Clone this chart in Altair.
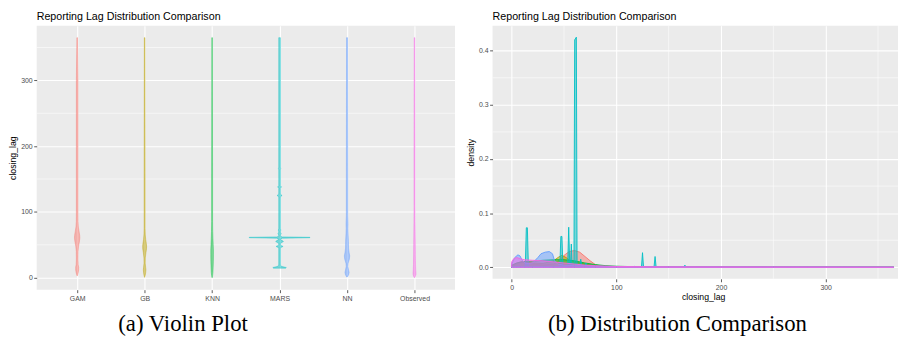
import json
import altair as alt
import pandas as pd

models = ["GAM", "GB", "KNN", "MARS", "NN", "Observed"]
colors = ["#F8766D", "#B79F00", "#00BA38", "#00BFC4", "#619CFF", "#F564E3"]

# ---- violin outlines: closing_lag value and half width (in category units)
gam_y = [3, 8, 12, 16, 20, 28, 40, 48, 54, 60, 64, 70, 77, 85, 100, 200, 300, 365]
gam_w = [0.003, 0.016, 0.022, 0.022, 0.015, 0.012, 0.013, 0.021, 0.032, 0.040, 0.038, 0.029, 0.018, 0.013, 0.012, 0.012, 0.012, 0.004]
gb_y = [0.5, 4, 8, 12, 16, 22, 30, 38, 44, 48, 52, 58, 65, 75, 90, 150, 365]
gb_w = [0.001, 0.010, 0.016, 0.019, 0.015, 0.009, 0.010, 0.019, 0.028, 0.029, 0.025, 0.016, 0.010, 0.007, 0.007, 0.007, 0.004]
knn_y = [0, 3, 8, 15, 25, 35, 42, 50, 60, 70, 85, 100, 150, 365]
knn_w = [0.001, 0.007, 0.012, 0.015, 0.018, 0.019, 0.019, 0.016, 0.012, 0.009, 0.007, 0.007, 0.007, 0.004]
mars_y = [14.5, 15.5, 17, 19, 45.5, 47.5, 49.5, 52, 53.5, 55, 56.5, 58, 59, 60, 60.8, 61.4, 62, 63,
          65, 67, 69, 71, 72.5, 74, 123, 125, 127, 136, 138, 140, 164, 166, 168, 365]
mars_w = [0.09, 0.1, 0.035, 0.012, 0.012, 0.052, 0.012, 0.012, 0.033, 0.058, 0.04, 0.013, 0.016, 0.04, 0.45, 0.45, 0.04, 0.013,
          0.013, 0.024, 0.013, 0.013, 0.02, 0.012, 0.012, 0.037, 0.012, 0.012, 0.028, 0.012, 0.012, 0.017, 0.012, 0.012]
nn_y = [1, 4, 8, 12, 17, 22, 28, 33, 38, 45, 55, 65, 75, 82, 95, 150, 365]
nn_w = [0.004, 0.022, 0.031, 0.022, 0.012, 0.016, 0.034, 0.040, 0.031, 0.022, 0.021, 0.016, 0.013, 0.015, 0.010, 0.010, 0.007]
obs_y = [0, 2, 5, 8, 12, 20, 35, 50, 65, 85, 110, 200, 365]
obs_w = [0.001, 0.013, 0.021, 0.021, 0.018, 0.015, 0.013, 0.012, 0.010, 0.008, 0.007, 0.007, 0.004]

# ---- density curves: closing_lag and density
gam_x = [0, 5, 10, 15, 20, 30, 40, 45, 50, 55, 60, 65, 70, 75, 80, 85, 90, 100, 120, 150, 200, 365]
gam_d = [0.002, 0.006, 0.009, 0.009, 0.006, 0.004, 0.006, 0.012, 0.022, 0.029, 0.031, 0.028, 0.02, 0.012, 0.005, 0.002, 0.001, 0.0005, 0.0003, 0.0002, 0.0001, 0]
gb_x = [0, 5, 10, 15, 20, 30, 40, 45, 48, 52, 56, 60, 70, 80, 100, 150, 365]
gb_d = [0.003, 0.008, 0.011, 0.01, 0.008, 0.007, 0.012, 0.019, 0.022, 0.018, 0.012, 0.01, 0.006, 0.003, 0.001, 0.0003, 0]
knn_x = [0, 5, 10, 20, 30, 40, 50, 60, 70, 80, 90, 100, 120, 150, 365]
knn_d = [0.004, 0.008, 0.01, 0.011, 0.013, 0.014, 0.014, 0.012, 0.008, 0.005, 0.003, 0.002, 0.001, 0.0005, 0]
mars_x = [0, 13, 14, 15, 16, 46, 47, 48, 49, 53.5, 54.5, 55.5, 56.2, 57, 57.8, 59.5, 60.2, 61.8, 62.5,
          65, 66, 67, 70, 71, 72, 93, 94, 95, 116, 117, 118, 124, 125, 126, 136, 137, 138, 164.5, 165.5, 166.5, 365]
mars_d = [0.001, 0.001, 0.073, 0.073, 0.001, 0.001, 0.057, 0.057, 0.001, 0.002, 0.074, 0.003, 0.003, 0.043, 0.003, 0.003, 0.42, 0.425, 0.003,
          0.002, 0.015, 0.002, 0.002, 0.008, 0.001, 0.001, 0.002, 0.001, 0.0005, 0.002, 0.0005, 0.0005, 0.027, 0.0005, 0.0005, 0.02, 0.0005, 0.0003, 0.004, 0.0003, 0]
nn_x = [0, 3, 6, 8, 10, 13, 16, 20, 25, 28, 32, 36, 39, 41, 44, 50, 60, 70, 80, 90, 100, 120, 283, 311, 365]
nn_d = [0.006, 0.018, 0.023, 0.021, 0.013, 0.008, 0.007, 0.008, 0.018, 0.025, 0.028, 0.029, 0.025, 0.012, 0.006, 0.004, 0.003, 0.003, 0.002, 0.0015, 0.001, 0.0005, 0.0003, 0.0003, 0]
obs_x = [0, 2, 5, 8, 12, 20, 30, 40, 50, 60, 70, 80, 100, 150, 250, 365]
obs_d = [0.01, 0.016, 0.018, 0.016, 0.014, 0.013, 0.012, 0.01, 0.008, 0.006, 0.004, 0.003, 0.0015, 0.001, 0.0008, 0.0006]

lag_ticks = [0, 100, 200, 300]
lag_minor = [50, 150, 250, 350]
dens_ticks = [0.0, 0.1, 0.2, 0.3, 0.4]
dens_minor = [0.05, 0.15, 0.25, 0.35]

title_text = "Reporting Lag Distribution Comparison"
captions = ["(a) Violin Plot", "(b) Distribution Comparison"]

# ---- build tables
violin_rows = []
for i, (m, ys, ws) in enumerate(zip(models, [gam_y, gb_y, knn_y, mars_y, nn_y, obs_y],
                                     [gam_w, gb_w, knn_w, mars_w, nn_w, obs_w])):
    for yv, wv in zip(ys, ws):
        violin_rows.append({"model": m, "closing_lag": yv, "lo": i + 1 - wv, "hi": i + 1 + wv})
violin_df = pd.DataFrame(violin_rows)

dens_tables = []
for m, xs, ds in zip(models, [gam_x, gb_x, knn_x, mars_x, nn_x, obs_x],
                     [gam_d, gb_d, knn_d, mars_d, nn_d, obs_d]):
    dens_tables.append(pd.DataFrame({"model": m, "closing_lag": xs, "density": ds}))

color_scale = alt.Scale(domain=models, range=colors)
FONT = "Liberation Sans"


def panel_title():
    return alt.TitleParams(title_text, anchor="start", frame="group", fontSize=10.8, font=FONT,
                           fontWeight="normal", color="black", offset=4)


def caption_layer(text, cx, cy):
    return alt.Chart(pd.DataFrame({"t": [text]})).mark_text(
        font="Liberation Serif", fontSize=23, align="center", baseline="middle", color="black"
    ).encode(x=alt.value(cx), y=alt.value(cy), text="t:N")


# ---- left: violins
lv_y_scale = alt.Scale(domain=[-18.25, 383.25], nice=False, zero=False)
lv_y_axis = alt.Axis(values=lag_ticks, title="closing_lag", grid=True)
lv_x_scale = alt.Scale(domain=[0.4, 6.6], nice=False, zero=False)
label_expr = json.dumps(models) + "[datum.value - 1]"
lv_x_axis = alt.Axis(values=list(range(1, 7)), labelExpr=label_expr, title=None, grid=True)

lv_minor = alt.Chart(pd.DataFrame({"v": lag_minor})).mark_rule(color="white", strokeWidth=0.55).encode(
    y=alt.Y("v:Q", scale=lv_y_scale, axis=lv_y_axis)
)
violins = alt.Chart(violin_df).mark_area(orient="horizontal", fillOpacity=0.5, strokeWidth=0.4).encode(
    y=alt.Y("closing_lag:Q", scale=lv_y_scale, axis=lv_y_axis),
    x=alt.X("lo:Q", scale=lv_x_scale, axis=lv_x_axis, stack=None),
    x2="hi:Q",
    color=alt.Color("model:N", scale=color_scale, legend=None),
    stroke=alt.Stroke("model:N", scale=color_scale, legend=None),
)
left = alt.layer(lv_minor, violins, caption_layer(captions[0], 148, 302)).properties(
    width=423, height=267, title=panel_title()
)

# ---- right: densities
rd_x_scale = alt.Scale(domain=[-18.25, 369.1], nice=False, zero=False)
rd_x_axis = alt.Axis(values=lag_ticks, title="closing_lag", grid=True, titleX=213, titlePadding=2)
rd_y_scale = alt.Scale(domain=[-0.02125, 0.44625], nice=False, zero=False)
rd_y_axis = alt.Axis(values=dens_ticks, title="density", grid=True, format=".1f")

rd_minor_x = alt.Chart(pd.DataFrame({"v": lag_minor})).mark_rule(color="white", strokeWidth=0.55).encode(
    x=alt.X("v:Q", scale=rd_x_scale, axis=rd_x_axis)
)
rd_minor_y = alt.Chart(pd.DataFrame({"v": dens_minor})).mark_rule(color="white", strokeWidth=0.55).encode(
    y=alt.Y("v:Q", scale=rd_y_scale, axis=rd_y_axis)
)
area_layers = []
for tbl in dens_tables:
    area_layers.append(
        alt.Chart(tbl).mark_area(fillOpacity=0.5, strokeWidth=0.9).encode(
            x=alt.X("closing_lag:Q", scale=rd_x_scale, axis=rd_x_axis),
            y=alt.Y("density:Q", scale=rd_y_scale, axis=rd_y_axis, stack=None),
            y2=alt.datum(0),
            color=alt.Color("model:N", scale=color_scale, legend=None),
            stroke=alt.Stroke("model:N", scale=color_scale, legend=None),
        )
    )
right = alt.layer(rd_minor_x, rd_minor_y, *area_layers, caption_layer(captions[1], 187, 302)).properties(
    width=410, height=256, title=panel_title()
)

chart = alt.hconcat(left, right, spacing=10).properties(
    padding=0, background="white"
).configure_view(
    fill="#EBEBEB", stroke=None
).configure_axis(
    domain=False, tickColor="#333333", tickSize=3, tickWidth=0.8,
    labelColor="#4D4D4D", labelFontSize=7, labelFont=FONT, labelPadding=1.5,
    titleFont=FONT, titleFontSize=8.8, titleFontWeight="normal", titleColor="black", titlePadding=3,
    gridColor="white", gridWidth=1.1,
)

chart.save("out.html", embed_options={"renderer": "svg", "actions": False})
